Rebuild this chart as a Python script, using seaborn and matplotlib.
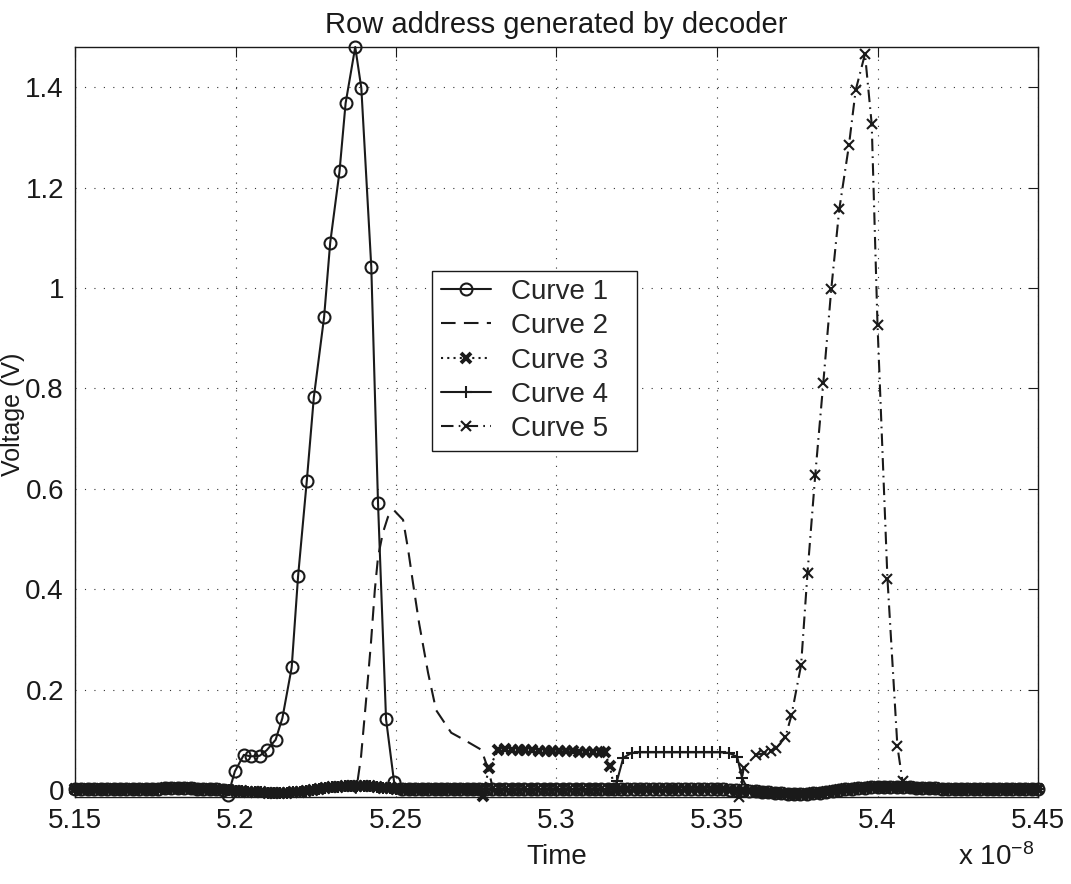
import numpy as np
import matplotlib
matplotlib.use("Agg")
import matplotlib.pyplot as plt
import seaborn as sns

# ---------------- data (time in units of 1e-8 s, voltage in V) ----------------
t_rest = [
    5.150, 5.152, 5.154, 5.156, 5.158, 5.160, 5.162, 5.164, 5.166, 5.168,
    5.170, 5.172, 5.174, 5.176, 5.178, 5.180, 5.182, 5.184, 5.186, 5.188,
    5.190, 5.192, 5.194, 5.196, 5.198, 5.200, 5.202, 5.204, 5.206, 5.208,
    5.210, 5.212, 5.214, 5.216, 5.218, 5.220, 5.222, 5.224, 5.226, 5.228,
    5.230, 5.232, 5.234, 5.236, 5.238, 5.240, 5.242, 5.244, 5.246, 5.248,
    5.250, 5.252, 5.254, 5.256, 5.258, 5.260, 5.262, 5.264, 5.266, 5.268,
    5.270, 5.272, 5.274, 5.276, 5.278, 5.280, 5.282, 5.284, 5.286, 5.288,
    5.290, 5.292, 5.294, 5.296, 5.298, 5.300, 5.302, 5.304, 5.306, 5.308,
    5.310, 5.312, 5.314, 5.316, 5.318, 5.320, 5.322, 5.324, 5.326, 5.328,
    5.330, 5.332, 5.334, 5.336, 5.338, 5.340, 5.342, 5.344, 5.346, 5.348,
    5.350, 5.352, 5.354, 5.356, 5.358, 5.360, 5.362, 5.364, 5.366, 5.368,
    5.370, 5.372, 5.374, 5.376, 5.378, 5.380, 5.382, 5.384, 5.386, 5.388,
    5.390, 5.392, 5.394, 5.396, 5.398, 5.400, 5.402, 5.404, 5.406, 5.408,
    5.410, 5.412, 5.414, 5.416, 5.418, 5.420, 5.422, 5.424, 5.426, 5.428,
    5.430, 5.432, 5.434, 5.436, 5.438, 5.440, 5.442, 5.444, 5.446, 5.448,
    5.450,
]
v_rest = [
    0.002, 0.002, 0.002, 0.002, 0.002, 0.002, 0.002, 0.002, 0.002, 0.002,
    0.002, 0.002, 0.002, 0.002, 0.003, 0.003, 0.003, 0.003, 0.003, 0.002,
    0.002, 0.002, 0.001, 0.000, -0.001, -0.002, -0.003, -0.004, -0.004, -0.005,
    -0.006, -0.006, -0.006, -0.006, -0.005, -0.004, -0.003, -0.001, 0.001, 0.003,
    0.005, 0.006, 0.007, 0.008, 0.008, 0.008, 0.007, 0.006, 0.004, 0.003,
    0.002, 0.001, 0.001, 0.001, 0.001, 0.001, 0.001, 0.001, 0.001, 0.001,
    0.001, 0.001, 0.001, 0.001, 0.001, 0.001, 0.001, 0.001, 0.001, 0.001,
    0.001, 0.001, 0.001, 0.001, 0.001, 0.001, 0.001, 0.001, 0.001, 0.001,
    0.001, 0.001, 0.001, 0.001, 0.001, 0.001, 0.001, 0.001, 0.001, 0.001,
    0.001, 0.001, 0.001, 0.001, 0.001, 0.001, 0.001, 0.001, 0.001, 0.001,
    0.001, 0.001, 0.000, 0.000, -0.001, -0.002, -0.003, -0.004, -0.005, -0.006,
    -0.007, -0.008, -0.008, -0.008, -0.008, -0.007, -0.006, -0.005, -0.003, -0.001,
    0.001, 0.002, 0.003, 0.004, 0.005, 0.005, 0.006, 0.006, 0.006, 0.005,
    0.005, 0.004, 0.004, 0.003, 0.003, 0.002, 0.002, 0.002, 0.002, 0.002,
    0.002, 0.002, 0.002, 0.002, 0.002, 0.002, 0.002, 0.002, 0.002, 0.002,
    0.002,
]

# active segments of each curve
c1_t = [5.1977, 5.1998, 5.2026, 5.2047, 5.2075, 5.2097, 5.2125, 5.2146, 5.2175, 5.2195, 5.2222,
        5.2244, 5.2276, 5.2295, 5.2324, 5.2343, 5.2373, 5.2392, 5.2423, 5.2444, 5.2469, 5.2494]
c1_v = [-0.010, 0.037, 0.070, 0.067, 0.068, 0.079, 0.100, 0.143, 0.244, 0.426, 0.615,
        0.782, 0.942, 1.090, 1.232, 1.368, 1.480, 1.398, 1.042, 0.571, 0.141, 0.016]

c2_t = [5.2375, 5.2391, 5.2406, 5.2422, 5.2434, 5.2444, 5.2459, 5.2475, 5.2494, 5.2522,
        5.2538, 5.2553, 5.2572, 5.2600, 5.2625, 5.2672, 5.2712, 5.2766, 5.2788, 5.2803]
c2_v = [-0.006, 0.066, 0.173, 0.293, 0.398, 0.464, 0.512, 0.544, 0.557, 0.538,
        0.478, 0.412, 0.332, 0.233, 0.159, 0.114, 0.100, 0.080, 0.040, 0.000]

c3_t = [5.2770, 5.2790, 5.2819, 5.2840, 5.2861, 5.2882, 5.2903, 5.2924, 5.2945, 5.2966, 5.2987,
        5.3008, 5.3029, 5.3050, 5.3071, 5.3092, 5.3113, 5.3134, 5.3150, 5.3166, 5.3181]
c3_v = [-0.012, 0.044, 0.080, 0.081, 0.080, 0.080, 0.079, 0.079, 0.078, 0.078, 0.078,
        0.077, 0.077, 0.077, 0.076, 0.076, 0.076, 0.075, 0.075, 0.048, 0.000]

c4_t = [5.3188, 5.3208, 5.3234, 5.3259, 5.3284, 5.3309, 5.3334, 5.3359, 5.3384,
        5.3409, 5.3434, 5.3459, 5.3484, 5.3509, 5.3536, 5.3563, 5.3578, 5.3597]
c4_v = [0.017, 0.064, 0.074, 0.075, 0.075, 0.075, 0.075, 0.075, 0.075,
        0.075, 0.075, 0.075, 0.075, 0.075, 0.074, 0.066, 0.024, 0.000]

c5_t = [5.3568, 5.3583, 5.3620, 5.3646, 5.3667, 5.3684, 5.3713, 5.3732, 5.3762, 5.3782, 5.3806,
        5.3831, 5.3856, 5.3881, 5.3911, 5.3932, 5.3961, 5.3982, 5.4000, 5.4031, 5.4062, 5.4078]
c5_v = [-0.014, 0.043, 0.070, 0.073, 0.077, 0.083, 0.105, 0.149, 0.249, 0.433, 0.627,
        0.810, 0.998, 1.157, 1.284, 1.394, 1.466, 1.326, 0.927, 0.421, 0.087, 0.017]

labels = ["Curve 1", "Curve 2", "Curve 3", "Curve 4", "Curve 5"]
x_ticks = [5.15, 5.2, 5.25, 5.3, 5.35, 5.4, 5.45]
y_ticks = [0, 0.2, 0.4, 0.6, 0.8, 1.0, 1.2, 1.4]
y_tick_labels = ["0", "0.2", "0.4", "0.6", "0.8", "1", "1.2", "1.4"]


def assemble(t_act, v_act):
    tr = np.array(t_rest)
    vr = np.array(v_rest)
    keep = (tr < t_act[0] - 0.0008) | (tr > t_act[-1] + 0.0008)
    t = np.concatenate([tr[keep], np.array(t_act)])
    v = np.concatenate([vr[keep], np.array(v_act)])
    order = np.argsort(t)
    return t[order], v[order]


# ---------------- styling ----------------
sns.set_theme(style="white")
plt.rcParams["font.family"] = ["Liberation Sans", "DejaVu Sans"]
plt.rcParams["mathtext.fontset"] = "custom"
plt.rcParams["mathtext.rm"] = "Liberation Sans"
plt.rcParams["mathtext.it"] = "Liberation Sans"

FS = 20
fig = plt.figure(figsize=(10.71, 8.84), dpi=100)
ax = fig.add_axes([75 / 1071, 87 / 884, 963 / 1071, 750 / 884])

styles = [
    dict(linestyle="-", marker="o", markersize=8.6, markeredgewidth=1.5, markerfacecolor="none"),
    dict(linestyle=(0, (7, 4)), marker=None),
    dict(linestyle=(0, (1, 2)), marker="x", markersize=6.5, markeredgewidth=2.8),
    dict(linestyle="-", marker="+", markersize=9, markeredgewidth=1.5),
    dict(linestyle=(0, (6, 2.5, 0.8, 2.5)), marker="x", markersize=7, markeredgewidth=1.5),
]
curves = [(c1_t, c1_v), (c2_t, c2_v), (c3_t, c3_v), (c4_t, c4_v), (c5_t, c5_v)]

for (ta, va), lab, st in zip(curves, labels, styles):
    t, v = assemble(ta, va)
    n_before = len(ax.lines)
    sns.lineplot(x=t, y=v, ax=ax, sort=False, estimator=None, color="k",
                 linewidth=1.5, markeredgecolor="k", clip_on=False, label=lab, legend=False,
                 **st)
    for ln in ax.lines[n_before:]:
        ln.set_linestyle(st["linestyle"])
        ln.set_clip_on(False)

ax.set_xlim(5.15, 5.45)
ax.set_ylim(-0.014, 1.480)
ax.set_xticks(x_ticks)
ax.set_xticklabels(["%g" % v for v in x_ticks])
ax.set_yticks(y_ticks)
ax.set_yticklabels(y_tick_labels)

ax.grid(True, color="#333333", linestyle=(0, (1, 7.5)), linewidth=0.8)
ax.set_axisbelow(True)
ax.tick_params(direction="in", length=7, width=0.8, top=True, right=True,
               labelsize=FS, pad=8, colors="k")
for sp in ax.spines.values():
    sp.set_visible(True)
    sp.set_color("k")
    sp.set_linewidth(1.0)

ax.set_title("Row address generated by decoder", fontsize=21, pad=10, color="k")
ax.set_xlabel("Time", fontsize=FS, color="k")
ax.set_ylabel("Voltage (V)", fontsize=18, color="k")
ax.xaxis.set_label_coords(0.5, -0.063)
ax.yaxis.set_label_coords(-0.0515, 0.51)

fig.text(958 / 1071, 1 - 857 / 884, r"x 10$^{-8}$", fontsize=FS, va="center", ha="left", color="k")

handles = ax.lines[:5]
leg = ax.legend(handles, labels, loc="upper left", bbox_to_anchor=(0.371, 0.0, 0.213, 0.702),
                mode="expand", frameon=True, fancybox=False, edgecolor="k", framealpha=1,
                fontsize=FS, handlelength=1.8, handletextpad=0.75, labelspacing=0.3,
                borderpad=0.3, borderaxespad=0, numpoints=1)
leg.get_frame().set_linewidth(1.0)

fig.savefig("out.png", dpi=100, facecolor="white")
